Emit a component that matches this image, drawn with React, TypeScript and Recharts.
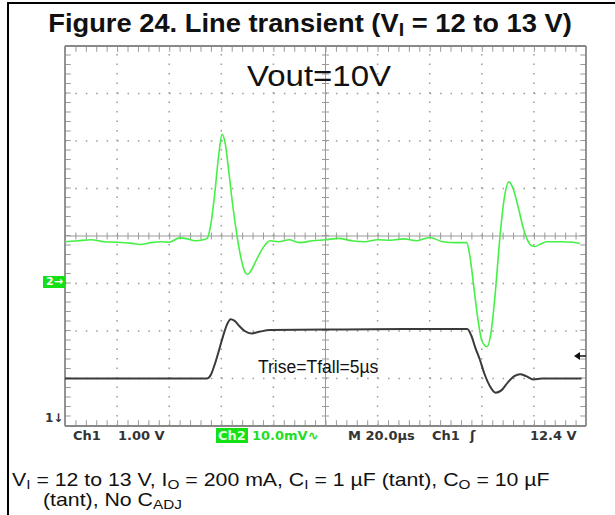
import { LineChart, Line, XAxis, YAxis, ReferenceLine } from "recharts"

// time in µs (20 µs/div), values in divisions (center = 0)
const greenT = [0, 5, 10, 15, 20, 25, 29, 33, 37, 40, 44, 47, 50, 53, 54.5, 56, 57.5, 59, 60.3, 61.5, 63, 64.5, 66, 67.5, 69, 70, 71.5, 73.5, 76, 78.7, 82, 86, 90, 95, 100, 105, 110, 115, 120, 125, 130, 135, 140, 145, 150, 154.2, 155.5, 157, 158.5, 160, 162, 163.5, 165, 167, 168.5, 170.4, 172, 174, 176, 177.5, 179, 180.5, 182.5, 185, 190, 195, 197.7]
const greenV = [-0.12, -0.1, -0.08, -0.12, -0.13, -0.15, -0.18, -0.14, -0.12, -0.13, -0.04, -0.06, -0.1, -0.08, -0.05, 0.25, 0.9, 1.7, 2.14, 1.95, 1.3, 0.6, 0.02, -0.45, -0.75, -0.81, -0.72, -0.5, -0.25, -0.1, -0.12, -0.08, -0.14, -0.1, -0.08, -0.05, -0.1, -0.12, -0.08, -0.09, -0.06, -0.1, -0.03, -0.12, -0.14, -0.14, -0.45, -1.1, -1.75, -2.2, -2.33, -2.05, -1.3, 0.0, 0.75, 1.14, 1.0, 0.6, 0.15, -0.08, -0.2, -0.22, -0.17, -0.12, -0.12, -0.13, -0.16]

const blackT = [0, 20, 40, 54.4, 56, 57.5, 59.5, 61, 62.3, 63.6, 65, 67, 69, 71.7, 75, 78.7, 100, 130, 154.4, 156, 157.5, 159.3, 161, 163, 165.3, 167.5, 170, 172.5, 174.7, 177, 179.8, 183, 190, 198.3]
const blackV = [-3.0, -3.0, -3.0, -3.0, -2.92, -2.7, -2.33, -2.05, -1.85, -1.75, -1.78, -1.9, -2.0, -2.05, -2.01, -1.98, -1.97, -1.96, -1.96, -2.1, -2.35, -2.61, -2.9, -3.15, -3.3, -3.25, -3.08, -2.95, -2.91, -2.95, -3.02, -3.0, -3.0, -3.0]

const xGrid = [20, 40, 60, 80, 120, 140, 160, 180]
const yGrid = [-3, -2, -1, 1, 2, 3]

const greenData = greenT.map((t, i) => ({ t, v: greenV[i] }))
const blackData = blackT.map((t, i) => ({ t, v: blackV[i] }))

const sans = "'Liberation Sans', Arial, sans-serif"
const scope = "'DejaVu Sans', sans-serif"

const abs = (left: number, top: number, extra: any = {}) => ({
  position: "absolute" as const,
  left,
  top,
  lineHeight: 1,
  whiteSpace: "nowrap" as const,
  ...extra,
})

const sub = { fontSize: "0.72em", position: "relative" as const, top: "0.22em" }
const scopeText = { fontFamily: scope, fontWeight: "bold", fontSize: 13, color: "#333" }

export default function App() {
  return (
    <div style={{ position: "absolute", left: 0, top: 0, width: 615, height: 515, overflow: "hidden", background: "#fff", fontFamily: sans }}>
      <div style={{ position: "absolute", left: 7, top: 2, width: 620, height: 600, borderTop: "2.5px solid #000", borderLeft: "2.5px solid #000" }} />
      <div style={abs(310, 9.5, { fontSize: 26, fontWeight: "bold", transform: "translateX(-50%) scaleX(1.05)", color: "#111" })}>
        Figure 24. Line transient (V<span style={sub}>I</span> = 12 to 13 V)
      </div>

      <div style={{ position: "absolute", left: 0, top: 0 }}>
        <LineChart width={615} height={515} data={blackData} margin={{ top: 46, right: 29, bottom: 89, left: 65 }}>
          <XAxis dataKey="t" type="number" domain={[0, 200]} hide />
          <YAxis type="number" domain={[-4, 4]} hide allowDataOverflow />
          {xGrid.map((x) => (
            <ReferenceLine key={"x" + x} x={x} stroke="#9a9a9a" strokeWidth={1.5} strokeDasharray="1.5 8" />
          ))}
          {yGrid.map((y) => (
            <ReferenceLine key={"y" + y} y={y} stroke="#9a9a9a" strokeWidth={1.5} strokeDasharray="1.5 8.92" />
          ))}
          <ReferenceLine x={100} stroke="#999" strokeWidth={1} />
          <ReferenceLine y={0} stroke="#999" strokeWidth={1} />
          <ReferenceLine x={100} stroke="#999" strokeWidth={7} strokeDasharray="1 8.5" />
          <ReferenceLine y={0} stroke="#999" strokeWidth={7} strokeDasharray="1 9.42" />
          <ReferenceLine y={3.94} stroke="#999" strokeWidth={5.7} strokeDasharray="1 9.42" />
          <ReferenceLine y={-3.94} stroke="#999" strokeWidth={5.7} strokeDasharray="1 9.42" />
          <ReferenceLine x={1.1} stroke="#999" strokeWidth={5.7} strokeDasharray="1 8.5" />
          <ReferenceLine x={198.9} stroke="#999" strokeWidth={5.7} strokeDasharray="1 8.5" />
          <ReferenceLine x={0} stroke="#888" strokeWidth={1.8} />
          <ReferenceLine x={200} stroke="#888" strokeWidth={1.8} />
          <ReferenceLine y={4} stroke="#888" strokeWidth={1.8} />
          <ReferenceLine y={-4} stroke="#888" strokeWidth={1.8} />
          <Line data={greenData} dataKey="v" type="monotone" stroke="#45f045" strokeWidth={1.6} dot={false} isAnimationActive={false} />
          <Line data={blackData} dataKey="v" type="monotone" stroke="#3a3a3a" strokeWidth={2} dot={false} isAnimationActive={false} />
        </LineChart>
      </div>

      <div style={abs(247, 61.3, { fontSize: 30, color: "#111", transform: "scaleX(1.1)", transformOrigin: "left" })}>Vout=10V</div>
      <div style={abs(258, 359.2, { fontSize: 17.5, color: "#111" })}>Trise=Tfall=5µs</div>

      <div style={abs(43, 276, { width: 22, height: 12, background: "#14e014", color: "#fff", fontFamily: scope, fontWeight: "bold", fontSize: 11, lineHeight: "12px", paddingLeft: 3, boxSizing: "border-box" })}>2→</div>
      <div style={abs(45, 411.8, { fontFamily: scope, fontWeight: "bold", fontSize: 12, color: "#333" })}>1↓</div>
      <svg style={{ position: "absolute", left: 574, top: 351 }} width={12} height={10}>
        <polygon points="0,5 6,1 6,9" fill="#111" />
        <line x1={6} y1={5} x2={12} y2={5} stroke="#111" strokeWidth={1.5} />
      </svg>

      <div style={abs(73, 429, scopeText)}>Ch1</div>
      <div style={abs(118, 429, scopeText)}>1.00 V</div>
      <div style={abs(216, 428, { ...scopeText, color: "#dfffdf", background: "#14e014", padding: "1px 2px" })}>Ch2</div>
      <div style={abs(252, 429, { ...scopeText, color: "#22dd22" })}>10.0mV∿</div>
      <div style={abs(348, 429, scopeText)}>M 20.0µs</div>
      <div style={abs(432, 429, scopeText)}>Ch1</div>
      <div style={abs(470, 429, scopeText)}>ʃ</div>
      <div style={abs(530, 429, scopeText)}>12.4 V</div>

      <div style={abs(11.7, 469.5, { fontSize: 19, color: "#111", transform: "scaleX(1.12)", transformOrigin: "left" })}>
        V<span style={sub}>I</span> = 12 to 13 V, I<span style={sub}>O</span> = 200 mA, C<span style={sub}>I</span> = 1 µF (tant), C<span style={sub}>O</span> = 10 µF
      </div>
      <div style={abs(43, 489.5, { fontSize: 19, color: "#111", transform: "scaleX(1.12)", transformOrigin: "left" })}>
        (tant), No C<span style={sub}>ADJ</span>
      </div>
    </div>
  )
}
